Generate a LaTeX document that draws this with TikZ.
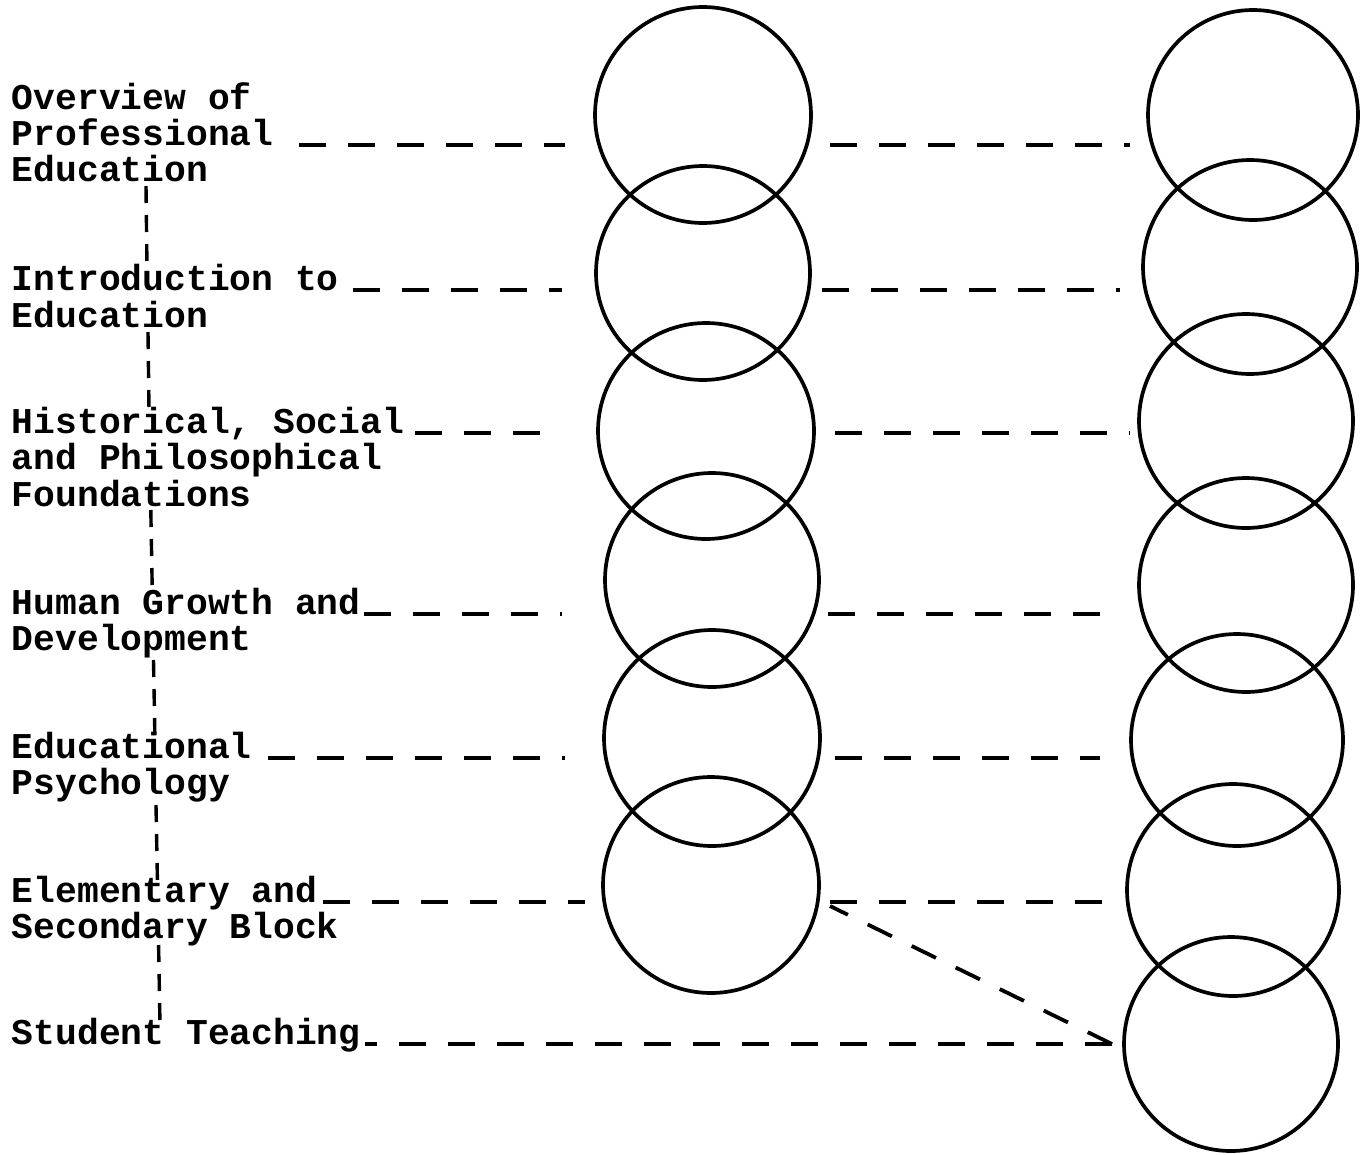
\documentclass[tikz,border=0pt]{standalone}
\usepackage{fontspec}
\setmonofont{Liberation Mono}
\usetikzlibrary{calc}
\tikzset{
  lbl/.style={anchor=base west, inner sep=0pt, outer sep=0pt, font=\ttfamily\bfseries\fontsize{36.3}{36}\selectfont},
  ring/.style={circle, draw, line width=3.7pt, inner sep=0pt, outer sep=0pt, minimum size=#1},
  hdash/.style={line width=3.8pt, dash pattern=on 27pt off 22pt},
  vdash/.style={line width=3.4pt, dash pattern=on 17pt off 12pt},
}
\begin{document}
\begin{tikzpicture}[x=1pt, y=-1pt]
\fill[white] (0,0) rectangle (1360,1154);
\useasboundingbox (0,0) rectangle (1360,1154);

% labels
\node[lbl] (a1) at (12,109) {Overview of};
\node[lbl] (a2) at (12,145) {Professional};
\node[lbl] (a3) at (12,181) {Education};
\node[lbl] (b1) at (12,290) {Introduction to};
\node[lbl] (b2) at (12,327) {Education};
\node[lbl] (c1) at (12,433) {Historical, Social};
\node[lbl] (c2) at (12,469) {and Philosophical};
\node[lbl] (c3) at (12,506) {Foundations};
\node[lbl] (d1) at (12,614) {Human Growth and};
\node[lbl] (d2) at (12,650) {Development};
\node[lbl] (e1) at (12,758) {Educational};
\node[lbl] (e2) at (12,794) {Psychology};
\node[lbl] (f1) at (12,902) {Elementary and};
\node[lbl] (f2) at (12,938) {Secondary Block};
\node[lbl] (g1) at (12,1044) {Student Teaching};

% middle column of circles
\node[ring=216pt] (m1) at (703,115) {};
\node[ring=214pt] (m2) at (703,273) {};
\node[ring=216pt] (m3) at (706,431) {};
\node[ring=214pt] (m4) at (712,580) {};
\node[ring=216pt] (m5) at (712,738) {};
\node[ring=216pt] (m6) at (711,885) {};

% right column of circles
\node[ring=210pt] (r1) at (1253,115) {};
\node[ring=214pt] (r2) at (1250,267) {};
\node[ring=214pt] (r3) at (1246,421) {};
\node[ring=214pt] (r4) at (1246,585) {};
\node[ring=212pt] (r5) at (1237,740) {};
\node[ring=212pt] (r6) at (1233,890) {};
\node[ring=214pt] (r7) at (1231,1044) {};

% vertical dashed sequence line
\draw[vdash] ($(a3.base west)+(134,5)$) -- ($(b1.base west)+(135,-22)$);
\draw[vdash] ($(b2.base west)+(136,5)$) -- ($(c1.base west)+(137,-23)$);
\draw[vdash] ($(c3.base west)+(138.8,4)$) -- ($(d1.base west)+(140.3,-22)$);
\draw[vdash] ($(d2.base west)+(141.5,10)$) -- ($(e1.base west)+(142.9,-21)$);
\draw[vdash] ($(e2.base west)+(144,11)$) -- ($(f1.base west)+(145.4,-22)$);
\draw[vdash] ($(f2.base west)+(146.6,7)$) -- ($(g1.base west)+(148,-19)$);

% horizontal connectors: label -> middle circle
\draw[hdash] ($(a2.base east)+(26,0)$) -- ($(a2.base east -| m1.west)+(-30,0)$);
\draw[hdash] ($(b1.base east)+(14,0)$) -- ($(b1.base east -| m2.west)+(-34,0)$);
\draw[hdash] ($(c1.base east)+(11,0)$) -- ($(c1.base east -| m3.west)+(-36,0)$);
\draw[hdash] ($(d1.base east)+(3,0)$) -- ($(d1.base east -| m4.west)+(-43,0)$);
\draw[hdash] ($(e1.base east)+(16,0)$) -- ($(e1.base east -| m5.west)+(-39,0)$);
\draw[hdash] ($(f1.base east)+(6,0)$) -- ($(f1.base east -| m6.west)+(-18,0)$);

% horizontal connectors: middle circle -> right circle
\draw[hdash] ($(a2.base east -| m1.east)+(19,0)$) -- ($(a2.base east -| r1.west)+(-18,0)$);
\draw[hdash] ($(b1.base east -| m2.east)+(12,0)$) -- ($(b1.base east -| r2.west)+(-23,0)$);
\draw[hdash] ($(c1.base east -| m3.east)+(21,0)$) -- ($(c1.base east -| r3.west)+(-9,0)$);
\draw[hdash] ($(d1.base east -| m4.east)+(9,0)$) -- ($(d1.base east -| r4.west)+(-19,0)$);
\draw[hdash] ($(e1.base east -| m5.east)+(15,0)$) -- ($(e1.base east -| r5.west)+(-31,0)$);
\draw[hdash] ($(f1.base east -| m6.east)+(11,0)$) -- ($(f1.base east -| r6.west)+(-12,0)$);

% student teaching: both routes converge on the last circle
\coordinate (conv) at ($(g1.base east -| r7.west)+(-12,0)$);
\draw[hdash] (conv) -- ($(g1.base east)+(4,0)$);
\draw[hdash] (conv) -- ($(m6.east)+(11,21)$);
\end{tikzpicture}
\end{document}
